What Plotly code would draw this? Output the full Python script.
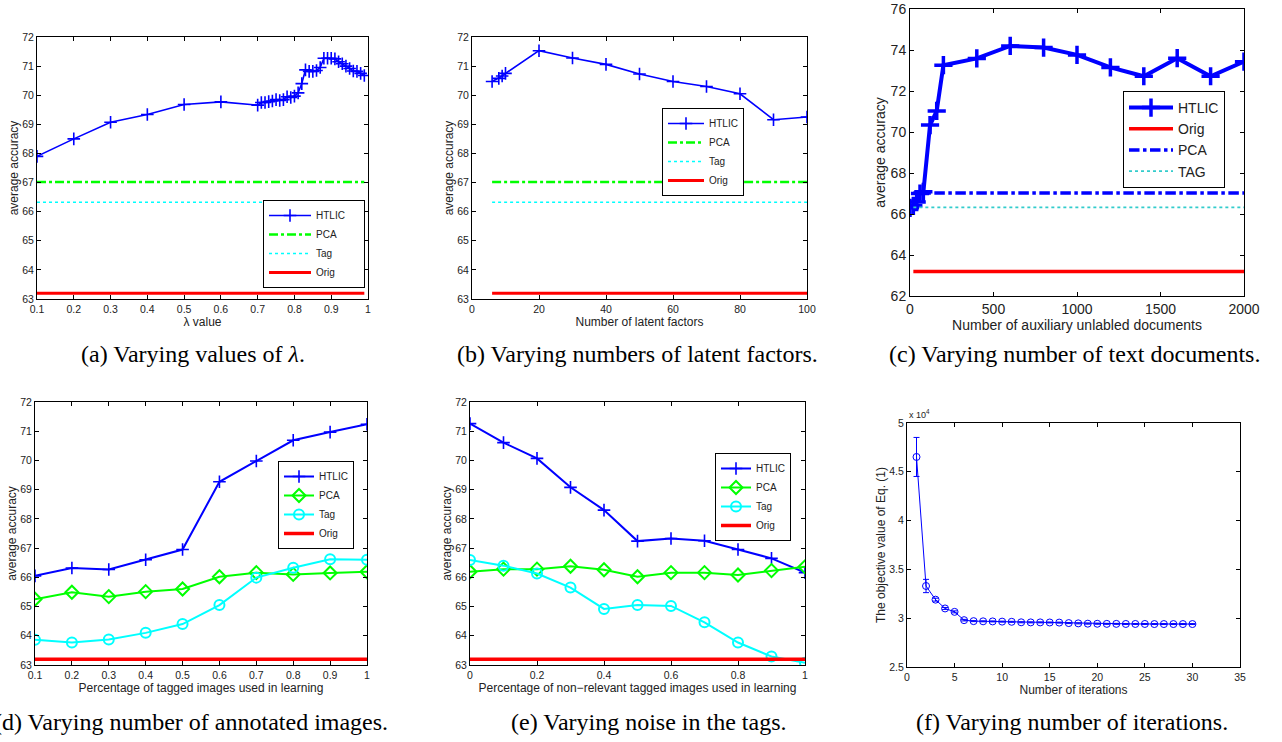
import plotly.graph_objects as go

W, H = 1282, 742

# ---------------- data ----------------
# (a) varying lambda
lam_x = [0.1, 0.2, 0.3, 0.4, 0.5, 0.6, 0.7, 0.71, 0.72, 0.73, 0.74, 0.75, 0.76, 0.77, 0.78, 0.79,
         0.80, 0.81, 0.82, 0.83, 0.84, 0.85, 0.86, 0.87, 0.88, 0.89, 0.90, 0.91, 0.92, 0.93, 0.94,
         0.95, 0.96, 0.97, 0.98, 0.99]
lam_htlic = [67.9, 68.5, 69.07, 69.34, 69.68, 69.77, 69.66, 69.75, 69.75, 69.78, 69.8, 69.85, 69.82,
             69.85, 69.95, 69.92, 69.97, 70.08, 70.4, 70.87, 70.82, 70.82, 70.85, 70.95, 71.27, 71.27,
             71.27, 71.25, 71.15, 71.08, 71.0, 70.92, 70.83, 70.82, 70.75, 70.68]
lam_range = [0.1, 0.99]

# (b) latent factors
lf_x = [6, 8, 9, 10, 20, 30, 40, 50, 60, 70, 80, 90, 100]
lf_htlic = [70.47, 70.58, 70.66, 70.75, 71.53, 71.28, 71.06, 70.73, 70.47, 70.3, 70.05, 69.16, 69.25]
lf_range = [6, 100]

# baselines shared by (a), (b), (c)
pca_base = 67.02
tag_base = 66.32
orig_base = 63.2

# (c) auxiliary documents
doc_x = [0, 20, 40, 60, 80, 120, 160, 200, 400, 600, 800, 1000, 1200, 1400, 1600, 1800, 2000]
doc_htlic = [66.3, 66.4, 66.58, 67.0, 67.08, 70.34, 71.03, 73.26, 73.59, 74.2, 74.12, 73.76, 73.15,
             72.72, 73.6, 72.72, 73.43]
doc_range = [20, 2000]

# (d) percentage of tagged images
pt_x = [0.1, 0.2, 0.3, 0.4, 0.5, 0.6, 0.7, 0.8, 0.9, 1.0]
pt_htlic = [66.05, 66.32, 66.27, 66.6, 66.95, 69.27, 69.98, 70.69, 70.97, 71.24]
pt_pca = [65.25, 65.49, 65.34, 65.51, 65.6, 66.02, 66.16, 66.1, 66.15, 66.19]
pt_tag = [63.86, 63.77, 63.87, 64.1, 64.4, 65.05, 65.99, 66.33, 66.62, 66.6]

# (e) noise in tags
nz_x = [0, 0.1, 0.2, 0.3, 0.4, 0.5, 0.6, 0.7, 0.8, 0.9, 1.0]
nz_htlic = [71.26, 70.61, 70.07, 69.08, 68.3, 67.24, 67.33, 67.25, 66.95, 66.65, 66.16]
nz_pca = [66.19, 66.28, 66.28, 66.38, 66.26, 66.02, 66.16, 66.16, 66.08, 66.23, 66.36]
nz_tag = [66.59, 66.4, 66.13, 65.65, 64.92, 65.05, 65.02, 64.46, 63.77, 63.29, 63.08]

# (f) iterations (objective value in units of 1e4)
it_x = list(range(1, 31))
it_obj = [4.652, 3.33, 3.19, 3.10, 3.065, 2.98, 2.97, 2.968, 2.967, 2.965, 2.963, 2.958, 2.957,
          2.957, 2.956, 2.955, 2.95, 2.947, 2.944, 2.943, 2.942, 2.942, 2.941, 2.941, 2.941, 2.94,
          2.94, 2.94, 2.94, 2.94]
it_err = [0.2, 0.068, 0.015, 0.01, 0.01, 0.008, 0.005, 0.005, 0.005, 0.005, 0.005, 0.005, 0.005,
          0.005, 0.005, 0.005, 0.005, 0.005, 0.005, 0.005, 0.005, 0.005, 0.005, 0.005, 0.005, 0.005,
          0.005, 0.005, 0.005, 0.005]

captions = ["(a) Varying values of <i>λ</i>.", "(b) Varying numbers of latent factors.",
            "(c) Varying number of text documents.", "(d) Varying number of annotated images.",
            "(e) Varying noise in the tags.", "(f) Varying number of iterations."]

# ---------------- layout helpers ----------------
BLUE, GREEN, CYAN, RED = "#0000FF", "#00FF00", "#00FFFF", "#FF0000"
SANS = "Liberation Sans, Arial, sans-serif"
SERIF = "Liberation Serif, Times New Roman, serif"
PAD = "\u00a0" * 5

# plot areas in pixels: (x0, x1, y0, y1)
boxes = [
    (37, 368, 37, 299),
    (472, 807, 37, 299),
    (910, 1244, 9, 296),
    (35, 367, 402, 665),
    (470, 805, 402, 665),
    (907, 1240, 423, 667),
]

fig = go.Figure()


def ax_name(i, kind):
    return kind + ("" if i == 1 else str(i))


def ref(i, kind):
    return kind[0] + ("" if i == 1 else str(i))


def add(i, **kw):
    kw.setdefault("legend", "legend" if i == 1 else "legend%d" % i)
    fig.add_trace(go.Scatter(xaxis=ref(i, "x"), yaxis=ref(i, "y"), **kw))


HT_MARK = dict(symbol="cross-thin", size=9, line=dict(width=1.6, color=BLUE), color=BLUE)

# (a)
add(1, x=lam_x, y=lam_htlic, name="HTLIC" + PAD, mode="lines+markers", line=dict(color=BLUE, width=1.6),
    marker=HT_MARK)
add(1, x=lam_range, y=[pca_base] * 2, name="PCA", mode="lines", line=dict(color=GREEN, width=2.5, dash="dashdot"))
add(1, x=lam_range, y=[tag_base] * 2, name="Tag", mode="lines", line=dict(color=CYAN, width=1.5, dash="dot"))
add(1, x=lam_range, y=[orig_base] * 2, name="Orig", mode="lines", line=dict(color=RED, width=3))

# (b)
add(2, x=lf_x, y=lf_htlic, name="HTLIC", mode="lines+markers", line=dict(color=BLUE, width=1.6),
    marker=HT_MARK)
add(2, x=lf_range, y=[pca_base] * 2, name="PCA", mode="lines", line=dict(color=GREEN, width=2.5, dash="dashdot"))
add(2, x=lf_range, y=[tag_base] * 2, name="Tag", mode="lines", line=dict(color=CYAN, width=1.5, dash="dot"))
add(2, x=lf_range, y=[orig_base] * 2, name="Orig", mode="lines", line=dict(color=RED, width=3))

# (c)
add(3, x=doc_x, y=doc_htlic, name="HTLIC", mode="lines+markers", line=dict(color=BLUE, width=4),
    marker=dict(symbol="cross-thin", size=13, line=dict(width=3.5, color=BLUE), color=BLUE))
add(3, x=doc_range, y=[orig_base] * 2, name="Orig", mode="lines", line=dict(color=RED, width=3.5))
add(3, x=doc_range, y=[pca_base] * 2, name="PCA", mode="lines", line=dict(color=BLUE, width=3.5, dash="dashdot"))
add(3, x=doc_range, y=[tag_base] * 2, name="TAG", mode="lines", line=dict(color="#33CCCC", width=1.8, dash="dot"))

# (d)
add(4, x=pt_x, y=pt_htlic, name="HTLIC", mode="lines+markers", line=dict(color=BLUE, width=2),
    marker=HT_MARK)
add(4, x=pt_x, y=pt_pca, name="PCA", mode="lines+markers", line=dict(color=GREEN, width=2),
    marker=dict(symbol="diamond-open", size=10, line=dict(width=2, color=GREEN), color=GREEN))
add(4, x=pt_x, y=pt_tag, name="Tag", mode="lines+markers", line=dict(color=CYAN, width=2),
    marker=dict(symbol="circle-open", size=10, line=dict(width=2, color=CYAN), color=CYAN))
add(4, x=[pt_x[0], pt_x[-1]], y=[orig_base] * 2, name="Orig", mode="lines", line=dict(color=RED, width=3.5))

# (e)
add(5, x=nz_x, y=nz_htlic, name="HTLIC", mode="lines+markers", line=dict(color=BLUE, width=2),
    marker=HT_MARK)
add(5, x=nz_x, y=nz_pca, name="PCA", mode="lines+markers", line=dict(color=GREEN, width=2),
    marker=dict(symbol="diamond-open", size=10, line=dict(width=2, color=GREEN), color=GREEN))
add(5, x=nz_x, y=nz_tag, name="Tag", mode="lines+markers", line=dict(color=CYAN, width=2),
    marker=dict(symbol="circle-open", size=10, line=dict(width=2, color=CYAN), color=CYAN))
add(5, x=[nz_x[0], nz_x[-1]], y=[orig_base] * 2, name="Orig", mode="lines", line=dict(color=RED, width=3.5))

# (f)
add(6, x=it_x, y=it_obj, name="objective", mode="lines+markers", showlegend=False,
    line=dict(color=BLUE, width=1),
    marker=dict(symbol="circle-open", size=7, line=dict(width=1, color=BLUE), color=BLUE),
    error_y=dict(type="data", array=it_err, color=BLUE, thickness=1, width=3))

# axes
xcfg = [
    dict(range=[0.1, 1], dtick=0.1, title="λ value"),
    dict(range=[0, 100], dtick=20, title="Number of latent factors"),
    dict(range=[0, 2000], dtick=500, title="Number of auxiliary unlabled documents"),
    dict(range=[0.1, 1], dtick=0.1, title="Percentage of tagged images used in learning"),
    dict(range=[0, 1], dtick=0.2, title="Percentage of non\u2212relevant tagged images used in learning"),
    dict(range=[0, 35], dtick=5, title="Number of iterations"),
]
ycfg = [
    dict(range=[63, 72], dtick=1, title="average accuracy"),
    dict(range=[63, 72], dtick=1, title="average accuracy"),
    dict(range=[62, 76], dtick=2, title="average accuracy"),
    dict(range=[63, 72], dtick=1, title="average accuracy"),
    dict(range=[63, 72], dtick=1, title="average accuracy"),
    dict(range=[2.5, 5], dtick=0.5, title="The objective value of Eq. (1)"),
]
tick_sizes = [10.5, 10.5, 14, 10.5, 10.5, 10.5]
title_sizes = [12, 12, 14, 12, 12, 12]

layout = dict(width=W, height=H, margin=dict(l=0, r=0, t=0, b=0, autoexpand=False),
              paper_bgcolor="white", showlegend=True, hovermode=False,
              plot_bgcolor="white", font=dict(family=SANS, color="#222222"))

for i, (b, xc, yc) in enumerate(zip(boxes, xcfg, ycfg), start=1):
    x0, x1, y0, y1 = b
    common = dict(showgrid=False, zeroline=False, showline=True, linecolor="black", linewidth=1,
                  mirror="ticks", ticks="inside", ticklen=4, tickcolor="black", automargin=False,
                  tickfont=dict(size=tick_sizes[i - 1], family=SANS, color="#222222"))
    layout[ax_name(i, "xaxis")] = dict(common, domain=[x0 / W, x1 / W], anchor=ref(i, "y"),
                                       range=xc["range"], dtick=xc["dtick"],
                                       title=dict(text=xc["title"], standoff=2,
                                                  font=dict(size=title_sizes[i - 1])))
    layout[ax_name(i, "yaxis")] = dict(common, domain=[1 - y1 / H, 1 - y0 / H], anchor=ref(i, "x"),
                                       range=yc["range"], dtick=yc["dtick"],
                                       title=dict(text=yc["title"], standoff=1,
                                                  font=dict(size=title_sizes[i - 1])))

# legends: (left px, top px, font size, sample width)
leg_pos = {1: (263, 200, 10, 42), 2: (662, 108, 10, 36), 3: (1123, 91, 14, 44),
           4: (278, 461, 10, 30), 5: (715, 453, 10, 30)}
for i, (lx, ly, fs, iw) in leg_pos.items():
    layout["legend" if i == 1 else "legend%d" % i] = dict(
        x=lx / W, y=1 - ly / H, xanchor="left", yanchor="top", bgcolor="white", visible=True,
        bordercolor="black", borderwidth=1, itemwidth=iw, font=dict(size=fs, family=SANS, color="#222222"),
        tracegroupgap=0)

# captions and exponent label
cap_pos = [(193, 354, "center"), (637, 354, "center"), (1074, 354, "center"),
           (390, 722, "right"), (649, 722, "center"), (1072, 722, "center")]
annotations = []
for (cx, cy, anc), txt in zip(cap_pos, captions):
    annotations.append(dict(x=cx / W, y=1 - cy / H, xref="paper", yref="paper", text=txt,
                            showarrow=False, xanchor=anc, yanchor="middle",
                            font=dict(family=SERIF, size=24, color="black")))
annotations.append(dict(x=907 / W, y=1 - 414 / H, xref="paper", yref="paper", text="x 10<sup>4</sup>",
                        showarrow=False, xanchor="left", yanchor="middle",
                        font=dict(family=SANS, size=9, color="#222222")))
layout["annotations"] = annotations

fig.update_layout(**layout)
fig.write_html("out.html", config={"displayModeBar": False, "staticPlot": True},
               post_script="document.body.style.margin='0px';document.body.style.overflow='hidden';")
